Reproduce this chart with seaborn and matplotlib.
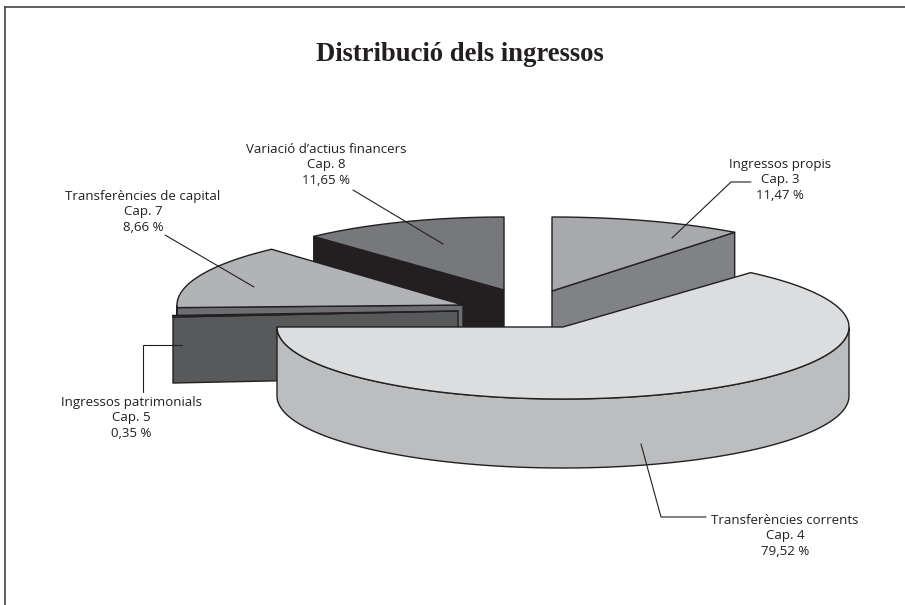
import numpy as np
import matplotlib
matplotlib.use('Agg')
import matplotlib.pyplot as plt
import seaborn as sns

# values printed on the chart, in clockwise order
labels = ['Ingressos propis', 'Transferències corrents', 'Ingressos patrimonials',
          'Transferències de capital', 'Variació d’actius financers']
chapters = [3, 4, 5, 7, 8]
percents = [11.47, 79.52, 0.35, 8.66, 11.65]
# share of the circle each slice really takes in the drawing (does not follow the printed %)
drawn_share = [10.42, 63.61, 0.35, 13.89, 11.89]
start_deg = [90, 49, 184.8, 182, 132.8]

top_colors = sns.color_palette(['#a7a9ac', '#dcddde', '#58595b', '#b1b3b6', '#77787b'])
side_colors = sns.color_palette(['#808285', '#bbbdbf', '#58595b', '#6d6e71', '#231f20'])

# exploded slices: centre x, centre y, semi axes, height
geometry = [(552, 291, 300, 74, 66),
            (563, 327, 286, 72, 69),
            (458, 311, 286, 72, 66),
            (463, 305, 286, 75, 66),
            (504, 290, 280, 73, 66)]
draw_order = [0, 4, 3, 2, 1]

label_pos = [(780, 163), (785, 519), (131, 401), (143, 195), (326, 148)]
leaders = [[(672, 238), (731, 182), (751, 182)],
           [(641, 444), (661, 517), (706, 517)],
           [(182, 345), (143, 345), (143, 392)],
           [(165, 235), (254, 287)],
           [(353, 190), (443, 244)]]

INK = '#231f20'

sns.set_theme(style='white')
plt.rcParams['font.family'] = ['Open Sans', 'DejaVu Sans']

fig = plt.figure(figsize=(9.05, 6.05), dpi=100)
ax = fig.add_axes([5 / 905, 0, 900 / 905, 598 / 605])
ax.set_xlim(5, 905)
ax.set_ylim(605, 7)
ax.set_xticks([])
ax.set_yticks([])
sns.despine(ax=ax, top=False, left=False, right=True, bottom=True)
for s in ['left', 'top']:
    ax.spines[s].set_color('#444444')
    ax.spines[s].set_linewidth(1.2)


def draw_slice(i):
    cx, cy, a, b, depth = geometry[i]
    sweep = drawn_share[i] * 3.6
    t = np.radians(np.linspace(start_deg[i], start_deg[i] - sweep, 200))
    x = cx + a * np.cos(t)
    y = cy - b * np.sin(t)
    edge = dict(edgecolor=INK, linewidth=1.0, joinstyle='round')

    # cut face on the lower edge of the small slices
    if sweep < 180:
        k = 0 if np.sin(t[0]) < np.sin(t[-1]) else -1
        ax.fill([cx, x[k], x[k], cx], [cy, y[k], y[k] + depth, cy + depth],
                facecolor=side_colors[i], **edge)

    # outer wall, only the part facing the viewer
    front = np.sin(t) <= 0
    if front.sum() > 1 and sweep > 5:
        ax.fill(np.r_[x[front], x[front][::-1]], np.r_[y[front], y[front][::-1] + depth],
                facecolor=side_colors[i], **edge)

    ax.fill(np.r_[cx, x], np.r_[cy, y], facecolor=top_colors[i], **edge)


for i in draw_order:
    draw_slice(i)

for i in range(len(labels)):
    xs, ys = zip(*leaders[i])
    ax.plot(xs, ys, color=INK, lw=0.8, solid_joinstyle='miter')
    txt = f"{labels[i]}\nCap. {chapters[i]}\n" + f"{percents[i]:.2f}".replace('.', ',') + ' %'
    ax.text(label_pos[i][0], label_pos[i][1] - 5.5, txt, ha='center', va='top', fontsize=9.5,
            color=INK, linespacing=1.26)

ax.text(460, 54, 'Distribució dels ingressos', ha='center', va='center', fontsize=19.2,
        fontweight='bold', family=['Liberation Serif', 'DejaVu Serif'], color=INK)

fig.savefig('out.png', dpi=100)
